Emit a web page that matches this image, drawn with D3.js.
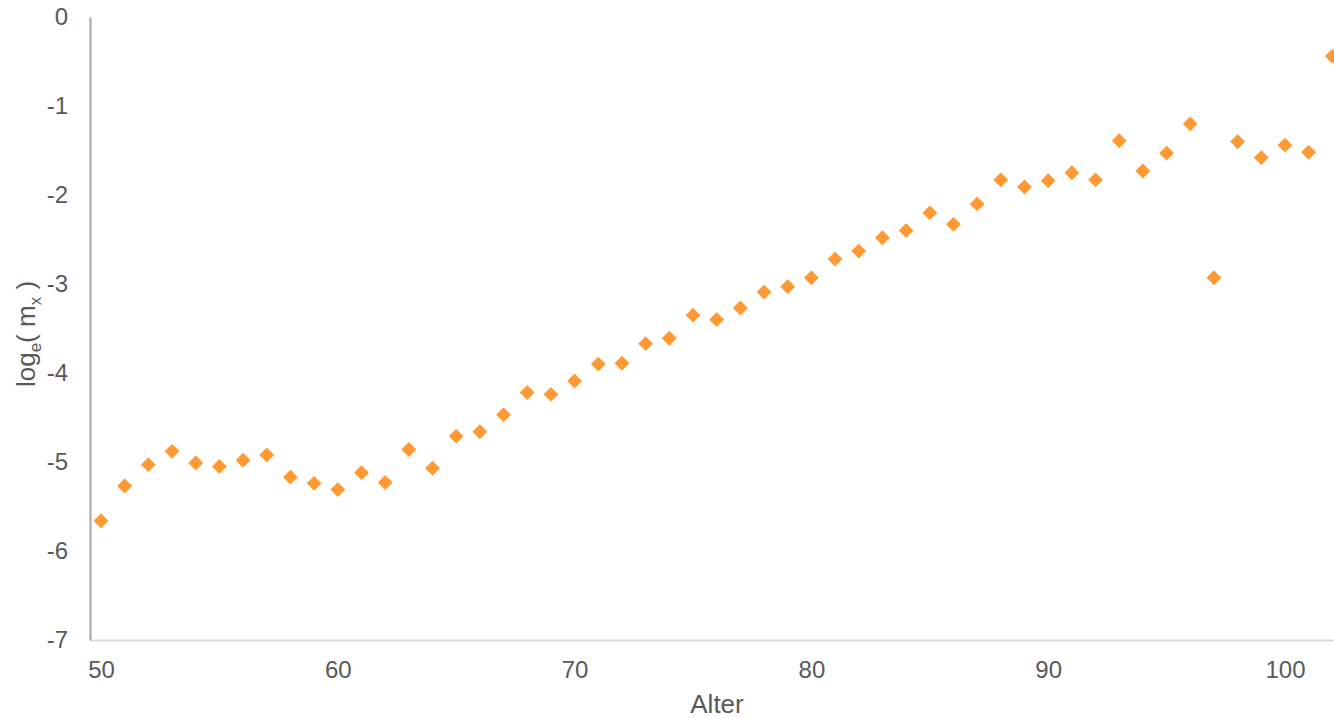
<!DOCTYPE html>
<html>
<head>
<meta charset="utf-8">
<script src="https://cdn.jsdelivr.net/npm/d3@7"></script>
<style>
  html, body { margin: 0; padding: 0; background: #fff; }
  svg { display: block; font-family: "Liberation Sans", Arial, sans-serif; }
</style>
</head>
<body>
<svg id="chart" width="1334" height="718"></svg>
<script>
// Age (Alter) and natural log of the central death rate m_x
const ages = [50, 51, 52, 53, 54, 55, 56, 57, 58, 59,
              60, 61, 62, 63, 64, 65, 66, 67, 68, 69,
              70, 71, 72, 73, 74, 75, 76, 77, 78, 79,
              80, 81, 82, 83, 84, 85, 86, 87, 88, 89,
              90, 91, 92, 93, 94, 95, 96, 97, 98, 99,
              100, 101, 102];
const logMx = [-5.66, -5.27, -5.03, -4.88, -5.01, -5.05, -4.98, -4.92, -5.17, -5.24,
               -5.31, -5.12, -5.23, -4.86, -5.07, -4.71, -4.66, -4.47, -4.22, -4.24,
               -4.09, -3.90, -3.89, -3.67, -3.61, -3.35, -3.40, -3.27, -3.09, -3.03,
               -2.93, -2.72, -2.63, -2.48, -2.40, -2.20, -2.33, -2.10, -1.83, -1.91,
               -1.84, -1.75, -1.83, -1.39, -1.73, -1.53, -1.20, -2.93, -1.40, -1.58,
               -1.44, -1.52, -0.44];
const xTicks = [50, 60, 70, 80, 90, 100];
const yTicks = [0, -1, -2, -3, -4, -5, -6, -7];

const plot = { left: 90, right: 1334, top: 17, bottom: 640 };
const textColor = "#595959";
const tickFont = 24;
const titleFont = 26;

const svg = d3.select("#chart");

const x = d3.scaleLinear().domain([49.535, 102.07]).range([plot.left, plot.right]);
const y = d3.scaleLinear().domain([-7, 0]).range([plot.bottom, plot.top]);

// plain hyphen for negatives
const fmt = d => String(d);

// x axis: light baseline plus labels, no tick marks
const xAxis = svg.append("g")
  .attr("transform", `translate(0,${plot.bottom})`)
  .call(d3.axisBottom(x).tickValues(xTicks).tickSize(0).tickPadding(21).tickFormat(fmt));
xAxis.select(".domain").attr("stroke", "#d9d9d9").attr("stroke-width", 2);
xAxis.selectAll("text").attr("fill", textColor).attr("font-size", tickFont)
  .attr("font-family", "Liberation Sans, Arial, sans-serif");

// y axis: darker line plus labels
const yAxis = svg.append("g")
  .attr("transform", `translate(${plot.left},0)`)
  .call(d3.axisLeft(y).tickValues(yTicks).tickSize(0).tickPadding(22).tickFormat(fmt));
yAxis.select(".domain").attr("stroke", "#a6a6a6").attr("stroke-width", 2);
yAxis.selectAll("text").attr("fill", textColor).attr("font-size", tickFont)
  .attr("font-family", "Liberation Sans, Arial, sans-serif");

// diamond markers
const diamond = d3.symbol().type(d3.symbolSquare).size(110);
svg.append("g")
  .selectAll("path")
  .data(ages.map((a, i) => ({ age: a, v: logMx[i] })))
  .join("path")
  .attr("d", diamond)
  .attr("transform", d => `translate(${x(d.age)},${y(d.v)}) rotate(45)`)
  .attr("fill", "#ff9933");

// axis titles
svg.append("text")
  .attr("x", 717)
  .attr("y", 713)
  .attr("text-anchor", "middle")
  .attr("fill", textColor)
  .attr("font-size", titleFont)
  .text("Alter");

const yTitle = svg.append("text")
  .attr("transform", "translate(35,334) rotate(-90)")
  .attr("text-anchor", "middle")
  .attr("fill", textColor)
  .attr("font-size", titleFont);
yTitle.append("tspan").text("log");
yTitle.append("tspan").attr("font-size", 17).attr("dy", 6).text("e");
yTitle.append("tspan").attr("dy", -6).text("( m");
yTitle.append("tspan").attr("font-size", 17).attr("dy", 6).text("x");
yTitle.append("tspan").attr("dy", -6).text(" )");
</script>
</body>
</html>
